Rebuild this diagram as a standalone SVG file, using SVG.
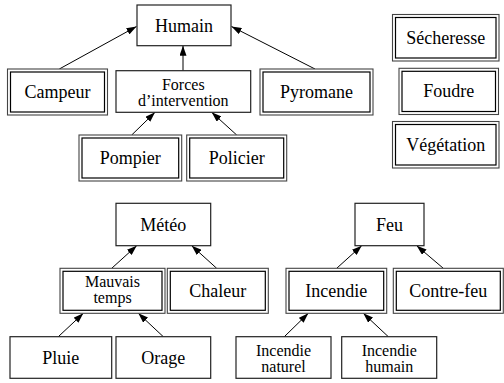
<svg xmlns="http://www.w3.org/2000/svg" width="504" height="383" viewBox="0 0 504 383">
<defs>
<style>
.b{fill:#fff;stroke:#222;stroke-width:1.2}
.o{fill:#fff;stroke:#444;stroke-width:1.1}
.i{fill:none;stroke:#000;stroke-width:1.2}
text{font-family:"Liberation Serif","Times New Roman",serif;font-size:18px;fill:#000;text-anchor:middle}
text.s{font-size:16px}
.e{stroke:#000;stroke-width:1;fill:none;marker-end:url(#ah)}
</style>
<marker id="ah" markerUnits="userSpaceOnUse" markerWidth="10" markerHeight="7" refX="10" refY="3.5" orient="auto">
<path d="M0,0 L10,3.5 L0,7 z" fill="#000"/>
</marker>
</defs>
<rect width="504" height="383" fill="#fff"/>
<g id="connectors">
<line class="e" x1="59.3" y1="69" x2="136.5" y2="26.5"/>
<line class="e" x1="183" y1="70.7" x2="183" y2="45.7"/>
<line class="e" x1="315" y1="69" x2="231.5" y2="26.5"/>
<line class="e" x1="131.7" y1="135" x2="155" y2="112.3"/>
<line class="e" x1="236.7" y1="135" x2="211.7" y2="112.3"/>
<line class="e" x1="111.7" y1="268.3" x2="136.7" y2="245.7"/>
<line class="e" x1="216.7" y1="268.3" x2="191.7" y2="245.7"/>
<line class="e" x1="58.3" y1="336.7" x2="83.3" y2="313.3"/>
<line class="e" x1="163.3" y1="336.7" x2="138.3" y2="313.3"/>
<line class="e" x1="336.7" y1="268.3" x2="361.7" y2="245.7"/>
<line class="e" x1="443.3" y1="268.3" x2="416.7" y2="245.7"/>
<line class="e" x1="284.3" y1="336.7" x2="308.3" y2="313.3"/>
<line class="e" x1="388.3" y1="336.7" x2="363.3" y2="313.3"/>
</g>
<g id="humain"><rect class="b" x="137" y="5" width="94" height="40.7"/><text x="184" y="31.5">Humain</text></g>
<g id="campeur"><rect class="o" x="7.5" y="69" width="100" height="46"/><rect class="i" x="10.5" y="72" width="94" height="40"/><text x="57.5" y="98">Campeur</text></g>
<g id="forces"><rect class="b" x="116" y="70.7" width="134.7" height="41.6"/><text class="s" x="183.3" y="89.5">Forces</text><text class="s" x="183.3" y="105.5">d’intervention</text></g>
<g id="pyromane"><rect class="o" x="260" y="69" width="113" height="46"/><rect class="i" x="263" y="72" width="107" height="40"/><text x="316.5" y="98">Pyromane</text></g>
<g id="pompier"><rect class="o" x="79" y="135" width="102.7" height="46"/><rect class="i" x="82" y="138" width="96.7" height="40"/><text x="130.3" y="164">Pompier</text></g>
<g id="policier"><rect class="o" x="186.7" y="135" width="100" height="46"/><rect class="i" x="189.7" y="138" width="94" height="40"/><text x="236.7" y="164">Policier</text></g>
<g id="secheresse"><rect class="o" x="392.5" y="14.5" width="106.5" height="46.5"/><rect class="i" x="395.5" y="17.5" width="100.5" height="40.5"/><text x="445.7" y="43.7">Sécheresse</text></g>
<g id="foudre"><rect class="o" x="399" y="68.3" width="99.5" height="46.2"/><rect class="i" x="402" y="71.3" width="93.5" height="40.2"/><text x="448.7" y="97.4">Foudre</text></g>
<g id="vegetation"><rect class="o" x="392.5" y="121.5" width="106.5" height="46.5"/><rect class="i" x="395.5" y="124.5" width="100.5" height="40.5"/><text x="445.7" y="150.7">Végétation</text></g>
<g id="meteo"><rect class="b" x="116" y="203.3" width="94.7" height="42.4"/><text x="163.3" y="230.5">Météo</text></g>
<g id="mauvais"><rect class="o" x="60" y="268.3" width="105" height="45"/><rect class="i" x="63" y="271.3" width="99" height="39"/><text class="s" x="112.5" y="287">Mauvais</text><text class="s" x="112.5" y="303">temps</text></g>
<g id="chaleur"><rect class="o" x="167.3" y="268.3" width="101" height="45"/><rect class="i" x="170.3" y="271.3" width="95" height="39"/><text x="217.8" y="296.8">Chaleur</text></g>
<g id="pluie"><rect class="b" x="10" y="336.7" width="101.7" height="41.6"/><text x="60.8" y="363.5">Pluie</text></g>
<g id="orage"><rect class="b" x="116" y="336.7" width="94.7" height="41.6"/><text x="163.3" y="363.5">Orage</text></g>
<g id="feu"><rect class="b" x="355" y="203.3" width="69" height="42.4"/><text x="389.5" y="230.5">Feu</text></g>
<g id="incendie"><rect class="o" x="286" y="268.3" width="100.7" height="45"/><rect class="i" x="289" y="271.3" width="94.7" height="39"/><text x="336.3" y="296.8">Incendie</text></g>
<g id="contrefeu"><rect class="o" x="393.3" y="268.3" width="110" height="45"/><rect class="i" x="396.3" y="271.3" width="104" height="39"/><text x="448.3" y="296.8">Contre-feu</text></g>
<g id="incnaturel"><rect class="b" x="236" y="336.7" width="95" height="41.6"/><text class="s" x="283.5" y="355.5">Incendie</text><text class="s" x="283.5" y="371.5">naturel</text></g>
<g id="inchumain"><rect class="b" x="341.7" y="336.7" width="95" height="41.6"/><text class="s" x="389.2" y="355.5">Incendie</text><text class="s" x="389.2" y="371.5">humain</text></g>
</svg>
